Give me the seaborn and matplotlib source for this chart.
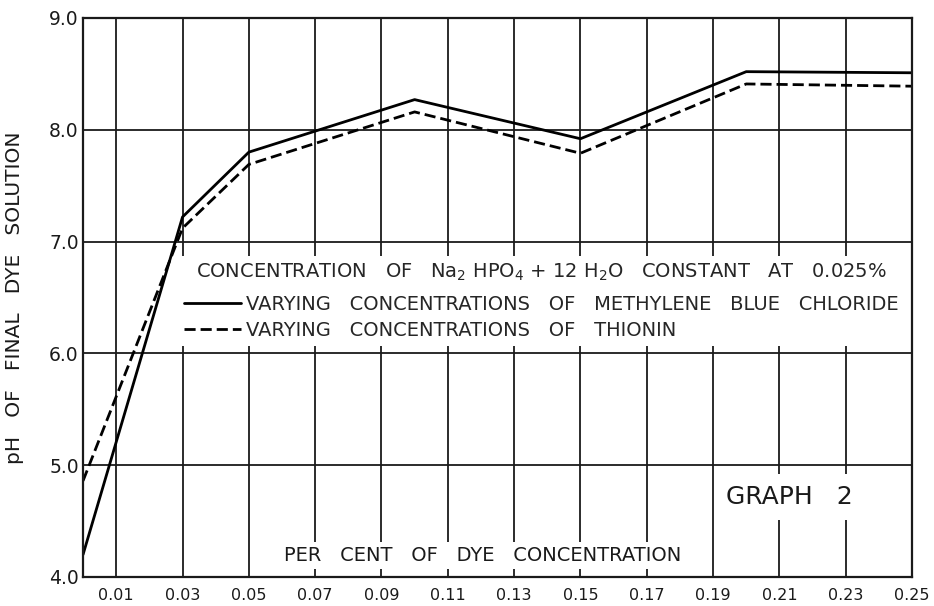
import numpy as np
import pandas as pd
import matplotlib
matplotlib.use("Agg")
import matplotlib.pyplot as plt
import seaborn as sns
from matplotlib.lines import Line2D

# values
conc = [0.0, 0.03, 0.05, 0.10, 0.15, 0.20, 0.25]
ph_methylene = [4.2, 7.22, 7.8, 8.27, 7.92, 8.52, 8.51]
ph_thionin = [4.86, 7.12, 7.69, 8.16, 7.79, 8.41, 8.39]

series_names = ["VARYING   CONCENTRATIONS   OF   METHYLENE   BLUE   CHLORIDE",
                "VARYING   CONCENTRATIONS   OF   THIONIN"]
legend_title = r"CONCENTRATION   OF   Na$_2$ HPO$_4$ + 12 H$_2$O   CONSTANT   AT   0.025%"

x_ticks = [0.01, 0.03, 0.05, 0.07, 0.09, 0.11, 0.13, 0.15, 0.17, 0.19, 0.21, 0.23, 0.25]
x_tick_labels = ["0.01", "0.03", "0.05", "0.07", "0.09", "0.11", "0.13",
                 "0.15", "0.17", "0.19", "0.21", "0.23", "0.25"]
y_ticks = [4, 5, 6, 7, 8, 9]
y_tick_labels = ["4.0", "5.0", "6.0", "7.0", "8.0", "9.0"]

df = pd.DataFrame({
    "conc": conc + conc,
    "ph": ph_methylene + ph_thionin,
    "dye": [series_names[0]] * len(conc) + [series_names[1]] * len(conc),
})

sns.set_theme(style="white")
plt.rcParams["font.family"] = ["DejaVu Sans"]

fig = plt.figure(figsize=(9.34, 6.06), dpi=100)
ax = fig.add_axes([0.0889, 0.0479, 0.8876, 0.9224])

dash_style = (4, 1.8)
sns.lineplot(data=df, x="conc", y="ph", style="dye", color="black",
             dashes={series_names[0]: "", series_names[1]: dash_style},
             linewidth=2.0, ax=ax, legend=False, zorder=3)

ax.set_xlim(0, 0.25)
ax.set_ylim(4, 9)
ax.set_xticks(x_ticks)
ax.set_xticklabels(x_tick_labels, fontsize=11.5)
ax.set_yticks(y_ticks)
ax.set_yticklabels(y_tick_labels, fontsize=13.5)
ax.tick_params(axis="x", length=3, width=1.2, pad=5, colors="#1a1a1a", direction="out")
ax.tick_params(axis="y", length=0, pad=3, colors="#1a1a1a")
ax.grid(True, color="#1a1a1a", linewidth=1.3)
ax.set_axisbelow(True)
for s in ax.spines.values():
    s.set_color("#1a1a1a")
    s.set_linewidth(1.6)
    s.set_zorder(6)
ax.set_xlabel("")
ax.set_ylabel("")

# legend block with title line
handles = [Line2D([], [], color="black", lw=2.0),
           Line2D([], [], color="black", lw=2.0, dashes=dash_style)]
leg = ax.legend(handles, series_names, title=legend_title, loc="upper left",
                bbox_to_anchor=(0.115, 0.575), borderaxespad=0, frameon=True,
                facecolor="white", edgecolor="none", framealpha=1,
                fontsize=14, title_fontsize=14, handlelength=2.9,
                handletextpad=0.3, labelspacing=0.35, borderpad=0.3)
leg.get_frame().set_boxstyle("square", pad=0)
leg._legend_box.sep = 9
leg.set_zorder(4)

txt_box = dict(facecolor="white", edgecolor="none", pad=3)
ax.text(0.4825, 0.039, "PER   CENT   OF   DYE   CONCENTRATION", transform=ax.transAxes,
        ha="center", va="center", fontsize=14, color="#1a1a1a", bbox=txt_box, zorder=4)
ax.text(0.852, 0.143, "GRAPH   2", transform=ax.transAxes, ha="center", va="center",
        fontsize=18, color="#1a1a1a", bbox=dict(facecolor="white", edgecolor="none", pad=8),
        zorder=4)

fig.text(15 / 934, 1 - 298 / 606, "pH   OF   FINAL   DYE   SOLUTION", rotation=90,
         ha="center", va="center", fontsize=14.5, color="#1a1a1a")

fig.savefig("out.png", dpi=100)
